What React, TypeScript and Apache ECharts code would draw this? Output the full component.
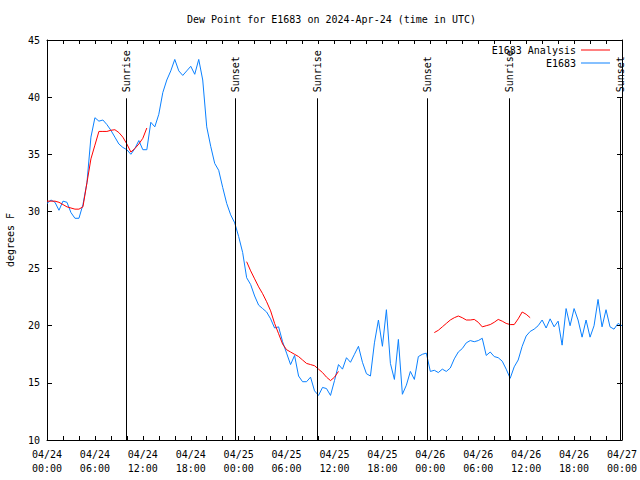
import React, { useEffect, useRef } from "react";
import * as echarts from "echarts";

// Time axis: hours since 2024-04-24 00:00 UTC
const X_MIN = 0;
const X_MAX = 72;
const STEP = 0.5; // hours between observations

// E1683 observed dew point (deg F), every 30 min from 04/24 00:00
const obsValues = [
  30.7, 31.0, 30.8, 30.1, 30.9, 30.8, 29.9, 29.4, 29.4, 30.6, 32.5, 36.5,
  38.2, 37.9, 38.0, 37.6, 37.1, 36.5, 35.9, 35.6, 35.4, 35.0, 35.5, 36.2,
  35.4, 35.4, 37.8, 37.4, 38.5, 40.4, 41.5, 42.3, 43.3, 42.3, 41.9, 42.3,
  42.7, 42.0, 43.3, 41.5, 37.4, 35.7, 34.2, 33.6, 32.1, 30.7, 29.7, 29.0,
  27.8, 26.4, 24.2, 23.6, 22.6, 21.8, 21.5, 21.2, 20.6, 19.8, 19.9, 18.6,
  17.6, 16.6, 17.4, 15.6, 15.1, 15.1, 15.5, 14.3, 13.9, 14.6, 14.5, 13.9,
  15.2, 16.6, 16.2, 17.2, 16.8, 17.5, 18.2, 16.8, 15.8, 15.6, 18.5, 20.5,
  18.2, 21.4, 16.7, 15.3, 18.8, 14.0, 14.8, 16.0, 15.3, 17.3, 17.5, 17.6,
  16.0, 16.1, 15.9, 16.2, 16.0, 16.3, 17.1, 17.7, 18.0, 18.5, 18.7, 18.6,
  18.7, 18.9, 17.4, 17.7, 17.3, 17.2, 16.9, 16.2, 15.4, 16.4, 17.0, 18.2,
  19.1, 19.5, 19.7, 20.0, 20.5, 19.8, 20.6, 19.9, 20.4, 18.3, 21.5, 20.0,
  21.5, 20.5, 19.0, 20.5, 19.0, 20.0, 22.3, 19.9, 21.4, 19.9, 19.7, 20.2,
  20.0,
];

// E1683 Analysis (deg F), 30-min steps, three segments
const analysisSeg1Start = 0;
const analysisSeg1 = [
  30.9, 30.9, 30.9, 30.8, 30.6, 30.4, 30.3, 30.2, 30.2, 30.4,
  32.5, 34.6, 35.8, 37.0, 37.0, 37.0, 37.1, 37.15, 36.9, 36.5,
  35.9, 35.2, 35.5, 35.9, 36.4, 37.3,
];
const analysisSeg2Start = 25.0;
const analysisSeg2 = [
  25.6, 24.8, 24.1, 23.4, 22.8, 22.1, 21.3, 20.2, 19.3, 18.4, 17.9, 17.7,
  17.5, 17.3, 17.0, 16.7, 16.6, 16.5, 16.2, 15.9, 15.5, 15.2, 15.5, 16.0,
];
const analysisSeg3Start = 48.5;
const analysisSeg3 = [
  19.4, 19.6, 19.9, 20.2, 20.5, 20.7, 20.85, 20.7, 20.5, 20.5, 20.55, 20.3,
  19.9, 20.0, 20.1, 20.3, 20.55, 20.4, 20.2, 20.1, 20.1, 20.6, 21.2, 21.0,
  20.7,
];

// Sunrise / sunset times (hours since start)
const sunTimes = [9.93, 23.58, 33.85, 47.63, 57.89, 71.71];
const sunLabels = ["Sunrise", "Sunset", "Sunrise", "Sunset", "Sunrise", "Sunset"];
const SUN_LINE_TOP = 39.9;

const yTicks = { min: 10, max: 45, interval: 5 };

const TITLE = "Dew Point for E1683 on 2024-Apr-24 (time in UTC)";
const FONT = "DejaVu Sans Mono";

function fmtTime(v: number): string {
  if (Math.round(v) % 6 !== 0) return "";
  const day = 24 + Math.floor(v / 24);
  const hr = Math.round(v) % 24;
  const hh = hr < 10 ? "0" + hr : "" + hr;
  return "04/" + day + "\n" + hh + ":00";
}

function buildAnalysis(): any[] {
  const out: any[] = [];
  const segs: [number, number[]][] = [
    [analysisSeg1Start, analysisSeg1],
    [analysisSeg2Start, analysisSeg2],
    [analysisSeg3Start, analysisSeg3],
  ];
  segs.forEach(([start, vals], si) => {
    vals.forEach((v, i) => out.push([start + i * STEP, v]));
    if (si < segs.length - 1) out.push([start + vals.length * STEP, "-"]);
  });
  return out;
}

export default function App() {
  const ref = useRef<HTMLDivElement>(null);
  useEffect(() => {
    if (!ref.current) return;
    const chart = echarts.init(ref.current, null, { renderer: "svg" });
    const obsData = obsValues.map((v, i) => [X_MIN + i * STEP, v]);
    const axisCommon = {
      type: "value",
      min: X_MIN,
      max: X_MAX,
      interval: 2,
      splitLine: { show: false },
      axisLine: { show: true, onZero: false, lineStyle: { color: "#000", width: 1 } },
      axisTick: { show: true, inside: true, length: 4, lineStyle: { color: "#000" } },
    };
    const yCommon = {
      type: "value",
      min: yTicks.min,
      max: yTicks.max,
      interval: yTicks.interval,
      splitLine: { show: false },
      axisLine: { show: true, onZero: false, lineStyle: { color: "#000", width: 1 } },
      axisTick: { show: true, inside: true, length: 5, lineStyle: { color: "#000" } },
    };
    const legendCommon = {
      right: 30,
      orient: "vertical",
      align: "right",
      icon: "rect",
      itemWidth: 29,
      itemHeight: 1,
      selectedMode: false,
      padding: 0,
      textStyle: { fontFamily: FONT, fontSize: 10, color: "#000" },
    };
    chart.setOption({
      animation: false,
      backgroundColor: "#fff",
      title: {
        text: TITLE,
        left: 187,
        top: 14,
        padding: 0,
        textStyle: { fontFamily: FONT, fontSize: 10, fontWeight: "normal", color: "#000" },
      },
      legend: [
        { ...legendCommon, top: 45, data: ["E1683 Analysis"] },
        { ...legendCommon, top: 58, data: ["E1683"] },
      ],
      grid: {
        left: 47,
        right: 18,
        top: 40,
        bottom: 40,
        containLabel: false,
        outerBoundsMode: "none",
      },
      xAxis: [
        {
          ...axisCommon,
          position: "bottom",
          axisLabel: {
            formatter: fmtTime,
            color: "#000",
            fontFamily: FONT,
            fontSize: 10,
            lineHeight: 14,
            margin: 7,
            showMinLabel: true,
            showMaxLabel: true,
          },
        },
        { ...axisCommon, position: "top", axisLabel: { show: false } },
      ],
      yAxis: [
        {
          ...yCommon,
          position: "left",
          name: "degrees F",
          nameLocation: "middle",
          nameGap: 32,
          nameTextStyle: { fontFamily: FONT, fontSize: 10, color: "#000" },
          axisLabel: { color: "#000", fontFamily: FONT, fontSize: 10, margin: 7 },
        },
        { ...yCommon, position: "right", axisLabel: { show: false } },
      ],
      series: [
        {
          name: "E1683",
          type: "line",
          data: obsData,
          showSymbol: false,
          symbol: "none",
          lineStyle: { color: "#0a80ff", width: 1 },
          itemStyle: { color: "#0a80ff" },
          z: 3,
        },
        {
          name: "E1683 Analysis",
          type: "line",
          data: buildAnalysis(),
          showSymbol: false,
          symbol: "none",
          connectNulls: false,
          lineStyle: { color: "#ff0000", width: 1 },
          itemStyle: { color: "#ff0000" },
          z: 4,
        },
        {
          name: "sun",
          type: "custom",
          data: sunTimes.map((t) => [t, SUN_LINE_TOP]),
          encode: { x: 0, y: 1 },
          z: 5,
          renderItem: (params: any, api: any) => {
            const t = api.value(0);
            const top = api.coord([t, SUN_LINE_TOP]);
            const bot = api.coord([t, yTicks.min]);
            const x = Math.round(top[0]) + 0.5;
            return {
              type: "group",
              children: [
                {
                  type: "line",
                  shape: { x1: x, y1: top[1], x2: x, y2: bot[1] },
                  style: { stroke: "#000", lineWidth: 1 },
                },
                {
                  type: "text",
                  x: x,
                  y: top[1] - 6,
                  rotation: Math.PI / 2,
                  style: {
                    text: sunLabels[params.dataIndex],
                    fill: "#000",
                    fontFamily: FONT,
                    fontSize: 10,
                    align: "left",
                    verticalAlign: "middle",
                  },
                },
              ],
            };
          },
        },
      ],
    });
    return () => chart.dispose();
  }, []);
  return (
    <div
      ref={ref}
      style={{ position: "absolute", left: 0, top: 0, width: 640, height: 480 }}
    />
  );
}
